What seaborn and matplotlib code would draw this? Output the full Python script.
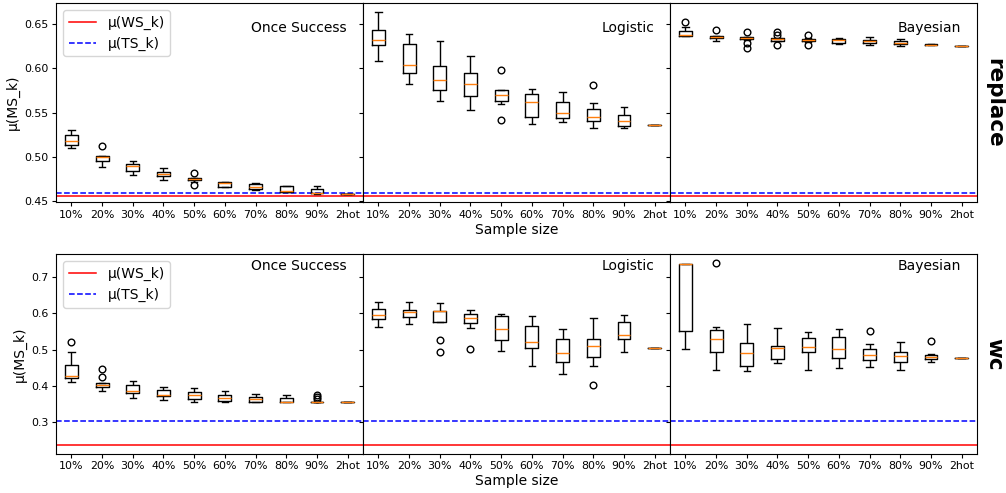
import pandas as pd
import matplotlib
matplotlib.use('Agg')
import matplotlib.pyplot as plt
import seaborn as sns

sizes = ['10%', '20%', '30%', '40%', '50%', '60%', '70%', '80%', '90%', '2hot']
methods = ['Once Success', 'Logistic', 'Bayesian']

# mean WS / TS reference lines per row
ws_replace, ts_replace = 0.4560, 0.4590
ws_wc, ts_wc = 0.2364, 0.3028

# ---- replace: Once Success (whisker lo, q1, median, q3, whisker hi, outliers)
rep_os_lo = [0.5096, 0.4884, 0.4790, 0.4741, 0.4714, 0.4655, 0.4620, 0.4600, 0.4582, 0.4583]
rep_os_q1 = [0.5130, 0.4956, 0.4843, 0.4779, 0.4733, 0.4657, 0.4635, 0.4605, 0.4586, 0.4583]
rep_os_med = [0.5179, 0.5000, 0.4896, 0.4805, 0.4745, 0.4703, 0.4662, 0.4617, 0.4594, 0.4583]
rep_os_q3 = [0.5243, 0.5013, 0.4922, 0.4828, 0.4756, 0.4718, 0.4688, 0.4665, 0.4631, 0.4583]
rep_os_hi = [0.5307, 0.5013, 0.4952, 0.4869, 0.4763, 0.4720, 0.4703, 0.4668, 0.4665, 0.4583]
rep_os_out = {'20%': [0.5122], '50%': [0.4816, 0.4680]}

# ---- replace: Logistic
rep_lg_lo = [0.6089, 0.5828, 0.5632, 0.5534, 0.5602, 0.5371, 0.5390, 0.5330, 0.5326, 0.5360]
rep_lg_q1 = [0.6262, 0.5953, 0.5756, 0.5685, 0.5632, 0.5447, 0.5435, 0.5409, 0.5352, 0.5360]
rep_lg_med = [0.6319, 0.6043, 0.5866, 0.5820, 0.5700, 0.5617, 0.5496, 0.5454, 0.5405, 0.5360]
rep_lg_q3 = [0.6436, 0.6273, 0.6028, 0.5953, 0.5753, 0.5715, 0.5624, 0.5545, 0.5473, 0.5360]
rep_lg_hi = [0.6636, 0.6387, 0.6315, 0.6145, 0.5756, 0.5768, 0.5730, 0.5609, 0.5564, 0.5360]
rep_lg_out = {'50%': [0.5987, 0.5420], '80%': [0.5813]}

# ---- replace: Bayesian
rep_by_lo = [0.6364, 0.6307, 0.6322, 0.6310, 0.6300, 0.6273, 0.6268, 0.6257, 0.6262, 0.6252]
rep_by_q1 = [0.6364, 0.6338, 0.6330, 0.6315, 0.6307, 0.6290, 0.6285, 0.6277, 0.6266, 0.6252]
rep_by_med = [0.6375, 0.6353, 0.6338, 0.6327, 0.6319, 0.6319, 0.6307, 0.6290, 0.6270, 0.6252]
rep_by_q3 = [0.6421, 0.6368, 0.6353, 0.6338, 0.6330, 0.6336, 0.6324, 0.6307, 0.6272, 0.6252]
rep_by_hi = [0.6463, 0.6368, 0.6358, 0.6345, 0.6338, 0.6347, 0.6353, 0.6332, 0.6278, 0.6252]
rep_by_out = {'10%': [0.6519], '20%': [0.6432], '30%': [0.6413, 0.6285, 0.6232],
              '40%': [0.6413, 0.6383, 0.6270], '50%': [0.6372, 0.6265]}

# ---- wc: Once Success
wc_os_lo = [0.4097, 0.3857, 0.3645, 0.3608, 0.3544, 0.3544, 0.3544, 0.3544, 0.3548, 0.3544]
wc_os_q1 = [0.4207, 0.3949, 0.3802, 0.3710, 0.3635, 0.3561, 0.3544, 0.3544, 0.3548, 0.3544]
wc_os_med = [0.4263, 0.4014, 0.3857, 0.3747, 0.3727, 0.3654, 0.3635, 0.3544, 0.3548, 0.3544]
wc_os_q3 = [0.4567, 0.4060, 0.4005, 0.3867, 0.3837, 0.3746, 0.3691, 0.3654, 0.3548, 0.3544]
wc_os_hi = [0.4935, 0.4060, 0.4124, 0.3959, 0.3948, 0.3865, 0.3765, 0.3746, 0.3548, 0.3544]
wc_os_out = {'10%': [0.5212], '20%': [0.4456, 0.4240], '90%': [0.3740, 0.3690, 0.3640]}

# ---- wc: Logistic
wc_lg_lo = [0.5636, 0.5719, 0.5774, 0.5599, 0.4972, 0.4548, 0.4336, 0.4548, 0.4945, 0.5037]
wc_lg_q1 = [0.5857, 0.5912, 0.5774, 0.5737, 0.5267, 0.5037, 0.4668, 0.4800, 0.5304, 0.5037]
wc_lg_med = [0.5959, 0.6041, 0.6060, 0.5885, 0.5581, 0.5212, 0.4899, 0.5111, 0.5406, 0.5037]
wc_lg_q3 = [0.6124, 0.6106, 0.6069, 0.5995, 0.5922, 0.5645, 0.5304, 0.5290, 0.5756, 0.5037]
wc_lg_hi = [0.6327, 0.6327, 0.6281, 0.6097, 0.5986, 0.5922, 0.5581, 0.5885, 0.5959, 0.5037]
wc_lg_out = {'30%': [0.5276, 0.4935], '40%': [0.5009], '80%': [0.4020]}

# ---- wc: Bayesian
wc_by_lo = [0.5009, 0.4447, 0.4392, 0.4631, 0.4447, 0.4502, 0.4521, 0.4429, 0.4650, 0.4770]
wc_by_q1 = [0.5507, 0.4935, 0.4539, 0.4733, 0.4935, 0.4760, 0.4724, 0.4668, 0.4751, 0.4770]
wc_by_med = [0.7378, 0.5304, 0.4917, 0.5055, 0.5065, 0.5018, 0.4862, 0.4825, 0.4797, 0.4770]
wc_by_q3 = [0.7378, 0.5553, 0.5194, 0.5111, 0.5332, 0.5341, 0.5009, 0.4945, 0.4853, 0.4770]
wc_by_hi = [0.7378, 0.5627, 0.5710, 0.5599, 0.5498, 0.5571, 0.5147, 0.5221, 0.4880, 0.4770]
wc_by_out = {'20%': [0.7387], '70%': [0.5516], '90%': [0.5230]}


def runs(lo, q1, med, q3, hi, out):
    # per-size run values (box edges repeated so the
    # quartiles land where they are drawn), plus the outlier points
    rows = []
    for i, s in enumerate(sizes):
        vals = [lo[i]] + [q1[i]] * 3 + [med[i]] * 3 + [q3[i]] * 3 + [hi[i]] + out.get(s, [])
        rows += [(s, v) for v in vals]
    return pd.DataFrame(rows, columns=['size', 'score'])


panels = [
    [runs(rep_os_lo, rep_os_q1, rep_os_med, rep_os_q3, rep_os_hi, rep_os_out),
     runs(rep_lg_lo, rep_lg_q1, rep_lg_med, rep_lg_q3, rep_lg_hi, rep_lg_out),
     runs(rep_by_lo, rep_by_q1, rep_by_med, rep_by_q3, rep_by_hi, rep_by_out)],
    [runs(wc_os_lo, wc_os_q1, wc_os_med, wc_os_q3, wc_os_hi, wc_os_out),
     runs(wc_lg_lo, wc_lg_q1, wc_lg_med, wc_lg_q3, wc_lg_hi, wc_lg_out),
     runs(wc_by_lo, wc_by_q1, wc_by_med, wc_by_q3, wc_by_hi, wc_by_out)],
]
row_names = ['replace', 'wc']
row_lines = [(ws_replace, ts_replace), (ws_wc, ts_wc)]
row_ylim = [(0.4485, 0.674), (0.2113, 0.7638)]
title_y = [0.873, 0.943]

fig = plt.figure(figsize=(10.06, 4.93), dpi=100)
gs = fig.add_gridspec(2, 3, left=0.0557, right=0.9712, top=0.994, bottom=0.0797,
                      wspace=0, hspace=0.2614)

for r in range(2):
    first = None
    for c in range(3):
        ax = fig.add_subplot(gs[r, c], sharey=first)
        if first is None:
            first = ax
        sns.boxplot(data=panels[r][c], x='size', y='score', order=sizes, ax=ax,
                    width=0.42, fill=False, color='black', linewidth=1.0,
                    fliersize=4.8, whis=1.5, legend=False,
                    medianprops=dict(color='#ff7f0e'),
                    flierprops=dict(marker='o', markerfacecolor='none',
                                    markeredgecolor='black'))
        ws, ts = row_lines[r]
        ax.axhline(ws, color='red', lw=1.1, label='μ(WS_k)', zorder=1)
        ax.axhline(ts, color='blue', lw=1.1, ls='--', label='μ(TS_k)', zorder=1)
        ax.set_xlim(-0.5, 9.5)
        ax.set_ylim(*row_ylim[r])
        ax.tick_params(labelsize=7.9, length=3, pad=2.5)
        ax.text(0.948, title_y[r], methods[c], transform=ax.transAxes,
                ha='right', va='center', fontsize=10)
        ax.set_xlabel('Sample size' if c == 1 else '', fontsize=10, labelpad=2)
        if c == 0:
            ax.set_ylabel('μ(MS_k)', fontsize=10, labelpad=3)
            ax.legend(loc='upper left', fontsize=10)
        else:
            ax.set_ylabel('')
            plt.setp(ax.get_yticklabels(), visible=False)
            if ax.get_legend() is not None:
                ax.get_legend().remove()
    fig.text(0.988, [1 - 102.5 / 493, 1 - 354 / 493][r], row_names[r], rotation=270,
             fontsize=15.5, fontweight='bold', ha='center', va='center')

fig.savefig('out.png', dpi=100)
